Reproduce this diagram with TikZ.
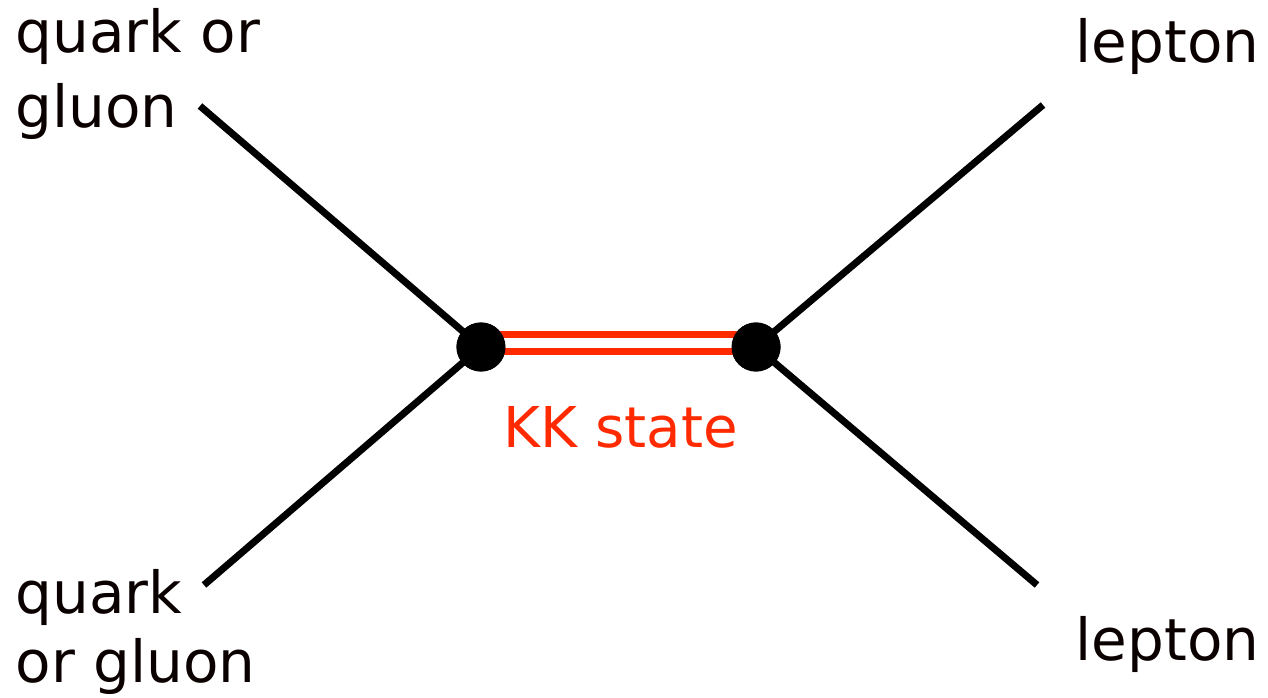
\documentclass[tikz,border=0pt]{standalone}
\usepackage{fontspec}
\setmainfont{DejaVu Sans}
\definecolor{kkred}{HTML}{FF2A00}
\definecolor{ink}{HTML}{0A0000}
\begin{document}
\begin{tikzpicture}[x=0.01cm, y=-0.01cm,
  leg/.style={draw=black, line width=2pt},
  vertex/.style={circle, fill=black, inner sep=0pt, minimum size=0.49cm},
  lbl/.style={inner sep=0pt, text=ink, align=left, font=\fontsize{16.5}{21}\selectfont},
  kk/.style={draw=kkred, line width=1.75pt, double=white, double distance=3.1pt},
  kklbl/.style={inner sep=0pt, text=kkred, font=\fontsize{16}{20}\selectfont}]
  \useasboundingbox (0,0) rectangle (1268,698);

  % vertices
  \node[vertex] (v1) at (481,347) {};
  \node[vertex] (v2) at (756,347) {};

  % external line ends
  \coordinate (inA)  at (200,106);
  \coordinate (inB)  at (204,585);
  \coordinate (outA) at (1043,105);
  \coordinate (outB) at (1037,585);

  % external legs
  \draw[leg] (inA) -- (v1.center);
  \draw[leg] (inB) -- (v1.center);
  \draw[leg] (outA) -- (v2.center);
  \draw[leg] (outB) -- (v2.center);

  % propagator
  \draw[kk] ([yshift=0.04cm]v1.center) -- ([yshift=0.04cm]v2.center);

  % redraw vertices on top
  \node[vertex] at (v1) {};
  \node[vertex] at (v2) {};

  % labels (base anchor sits on the last line)
  \node[lbl, anchor=base west] (tA) at (15,128) {quark or\\[0.4pt]gluon};
  \node[lbl, anchor=base west] (tB) at (15,682) {quark\\[-1.4pt]or gluon};
  \node[lbl, anchor=base east] (tC) at (1260,63) {lepton};
  \node[lbl, anchor=base east] (tD) at (1260,660) {lepton};
  \node[kklbl, anchor=base] (tK) at (621,448) {KK state};
\end{tikzpicture}
\end{document}
